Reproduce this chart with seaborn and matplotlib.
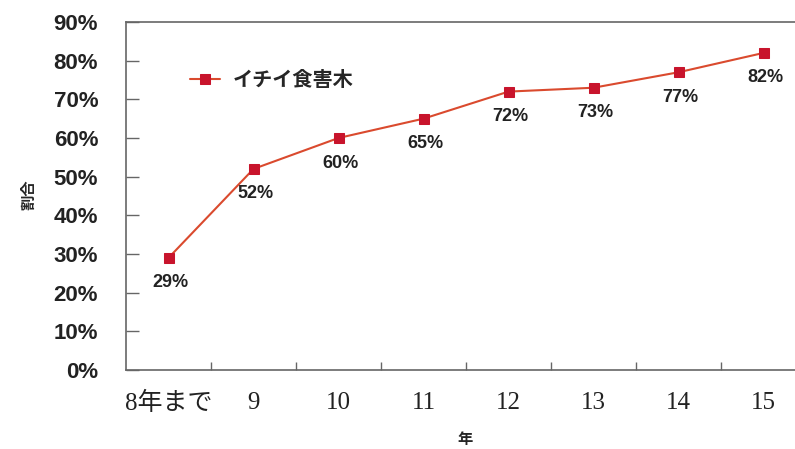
import matplotlib
matplotlib.use("Agg")
import matplotlib.pyplot as plt
import seaborn as sns
import numpy as np
import pandas as pd
from matplotlib.ticker import FixedLocator

# ---- data ----
categories = ["8年まで", "9", "10", "11", "12", "13", "14", "15"]
values = [29, 52, 60, 65, 72, 73, 77, 82]
series_name = "イチイ食害木"
y_ticks = [0, 10, 20, 30, 40, 50, 60, 70, 80, 90]
y_tick_labels = [f"{v}%" for v in y_ticks]
x_title = "年"
y_title = "割合"

sns.set_style("white")
plt.rcParams["font.family"] = ["Noto Sans CJK JP", "DejaVu Sans"]

df = pd.DataFrame({"pos": np.arange(len(categories)), "value": values,
                   "series": series_name})

fig = plt.figure(figsize=(7.95, 4.49), dpi=100)
ax = fig.add_axes([126 / 795, 1 - 370 / 449, 680 / 795, 348 / 449])

line_color = "#DA4A2E"
marker_color = "#C8142C"
sns.lineplot(data=df, x="pos", y="value", hue="series", palette=[line_color],
             marker="s", markersize=7, markerfacecolor=marker_color,
             markeredgecolor=marker_color, linewidth=1.5, ax=ax)

ax.set_xlim(-0.5, len(categories) - 0.5)
ax.set_ylim(0, 90)

# y axis
ax.set_yticks(y_ticks)
ax.set_yticklabels(y_tick_labels, fontfamily=["Liberation Sans", "DejaVu Sans"],
                   fontsize=16, fontweight="bold", color="#222222")
ax.tick_params(axis="y", direction="in", length=9, width=1, color="#666666",
               pad=20, left=True)

# x axis
ax.set_xticks(df["pos"])
ax.set_xticklabels(categories, fontfamily=["Liberation Serif", "Noto Sans CJK JP"],
                   fontsize=18, color="#222222")
ax.tick_params(axis="x", which="major", length=0, pad=16)
ax.xaxis.set_minor_locator(FixedLocator(np.arange(len(categories)) + 0.5))
ax.tick_params(axis="x", which="minor", direction="in", length=6, width=1,
               color="#666666", bottom=True)

for side in ["left", "bottom", "top"]:
    ax.spines[side].set_color("#666666")
    ax.spines[side].set_linewidth(1.2)
ax.spines["right"].set_visible(False)

ax.set_xlabel(x_title, fontsize=11, fontweight="bold",
              fontfamily=["Noto Sans CJK JP", "DejaVu Sans"])
ax.xaxis.set_label_coords((465 - 126) / 680, (370 - 431) / 348)
ax.set_ylabel(y_title, fontsize=11, fontweight="bold",
              fontfamily=["Noto Sans CJK JP", "DejaVu Sans"])
ax.yaxis.set_label_coords((36 - 126) / 680, (370 - 195) / 348)

# data labels
for x, v in zip(df["pos"], values):
    ax.annotate(f"{v}%", (x, v), xytext=(2, -25), textcoords="offset pixels",
                ha="center", va="center", fontsize=13, fontweight="bold",
                fontfamily=["Liberation Sans", "DejaVu Sans"], color="#222222")

leg = ax.legend(loc="center left", bbox_to_anchor=((190 - 126) / 680, (370 - 80) / 348),
                frameon=False, borderpad=0, borderaxespad=0, handlelength=1.5,
                handletextpad=0.6, prop={"family": ["Noto Sans CJK JP"], "size": 14.5,
                                         "weight": "bold"})

fig.savefig("out.png", dpi=100)
